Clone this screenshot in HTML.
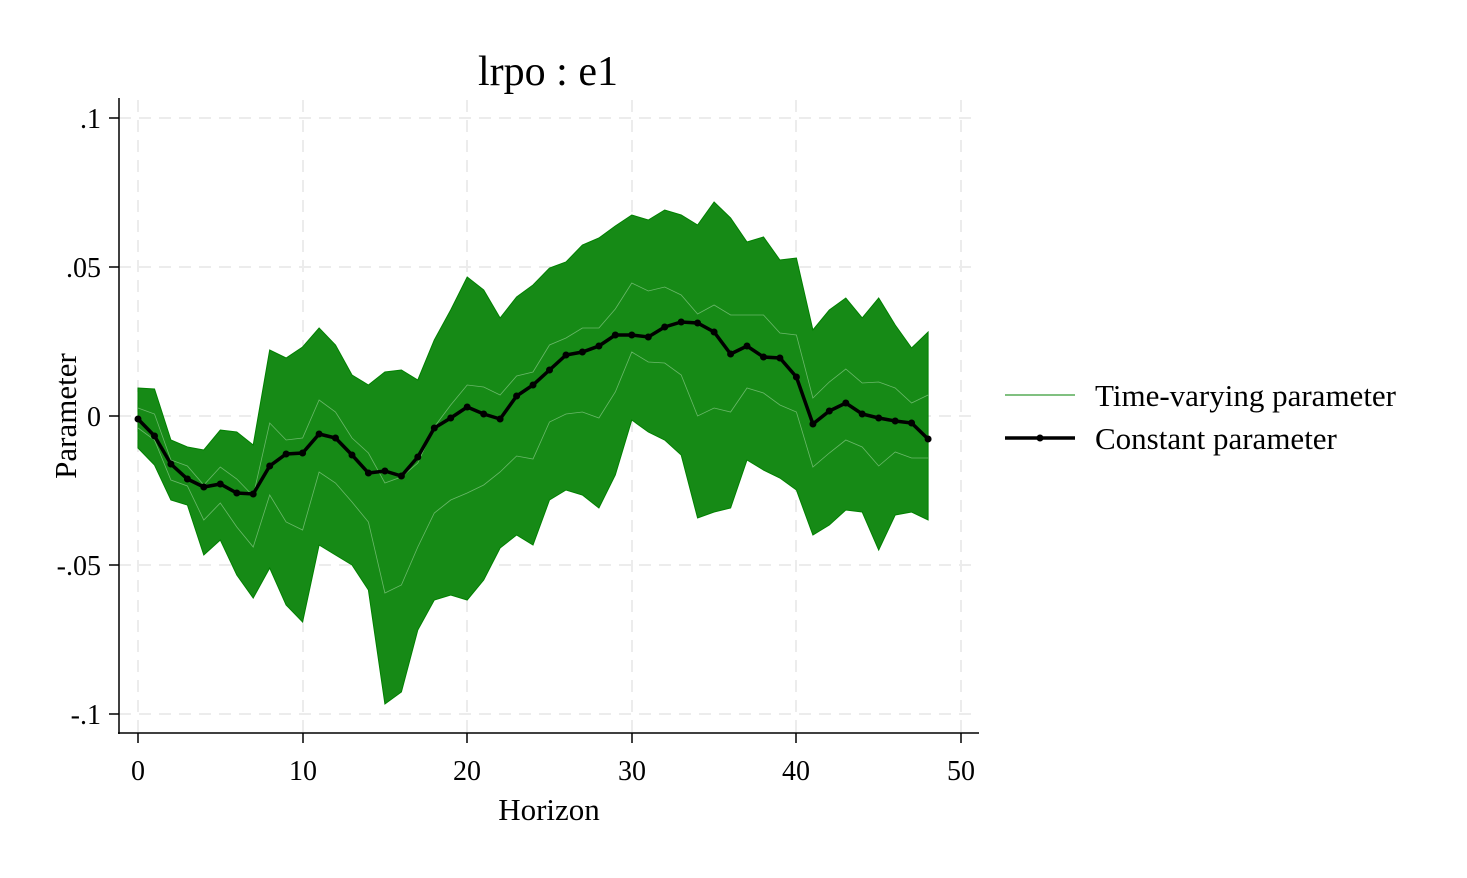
<!DOCTYPE html>
<html><head><meta charset="utf-8"><style>
html,body{margin:0;padding:0;background:#fff;}
svg{display:block;font-family:"Liberation Serif",serif;}
</style></head><body>
<svg width="1467" height="878" viewBox="0 0 1467 878" xmlns="http://www.w3.org/2000/svg">
<defs>
<marker id="dot" markerUnits="userSpaceOnUse" markerWidth="10" markerHeight="10" refX="5" refY="5"><circle cx="5" cy="5" r="3.5" fill="#000"/></marker>
</defs>
<rect width="1467" height="878" fill="#fff"/>
<g stroke="#ececec" stroke-width="2" stroke-dasharray="12,8" fill="none">
<line x1="138" y1="100" x2="138" y2="733"/><line x1="303" y1="100" x2="303" y2="733"/>
<line x1="467" y1="100" x2="467" y2="733"/><line x1="632" y1="100" x2="632" y2="733"/>
<line x1="796" y1="100" x2="796" y2="733"/><line x1="961" y1="100" x2="961" y2="733"/>
<line x1="119" y1="118" x2="979" y2="118"/><line x1="119" y1="267" x2="979" y2="267"/>
<line x1="119" y1="416" x2="979" y2="416"/><line x1="119" y1="565" x2="979" y2="565"/>
<line x1="119" y1="714" x2="979" y2="714"/>
</g>
<polygon fill="#168a16" stroke="#008000" stroke-width="1" points="138,388 154.5,389 170.9,440 187.4,447 203.8,450 220.3,430 236.8,432 253.2,445 269.7,350 286.1,358 302.6,347 319.1,328 335.5,345 352,375 368.4,385 384.9,372 401.4,370 417.8,380 434.3,340 450.7,310 467.2,277 483.7,290 500.1,318 516.6,297 533,285 549.5,268 566,262 582.4,245 598.9,238 615.3,226 631.8,215 648.3,220 664.7,210 681.2,215 697.6,225 714.1,202 730.6,218 747,242 763.5,237 779.9,260 796.4,258 812.9,330 829.3,310 845.8,298 862.2,318 878.7,298 895.2,325 911.6,348 928.1,332 928.1,520 911.6,512 895.2,515 878.7,550 862.2,512 845.8,510 829.3,525 812.9,535 796.4,490 779.9,478 763.5,470 747,460 730.6,508 714.1,512 697.6,518 681.2,455 664.7,440 648.3,432 631.8,420 615.3,475 598.9,508 582.4,495 566,490 549.5,500 533,545 516.6,535 500.1,548 483.7,580 467.2,600 450.7,595 434.3,600 417.8,630 401.4,692 384.9,704 368.4,590 352,565 335.5,555 319.1,545 302.6,622 286.1,605 269.7,568 253.2,598 236.8,575 220.3,540 203.8,555 187.4,505 170.9,500 154.5,465 138,448"/>
<g fill="none" stroke="#7fc47f" stroke-width="0.8" opacity="0.8">
<polyline points="138,408 154.5,414 170.9,460 187.4,466 203.8,485 220.3,467 236.8,479 253.2,496 269.7,423 286.1,440 302.6,438 319.1,400 335.5,412 352,438 368.4,453 384.9,483 401.4,477 417.8,463 434.3,427 450.7,405 467.2,385 483.7,387 500.1,395 516.6,376 533,372 549.5,345 566,338 582.4,328 598.9,328 615.3,309 631.8,283 648.3,291 664.7,287 681.2,295 697.6,314 714.1,305 730.6,315 747,315 763.5,315 779.9,333 796.4,335 812.9,398 829.3,382 845.8,369 862.2,383 878.7,382 895.2,388 911.6,403 928.1,395"/>
<polyline points="138,428 154.5,440 170.9,480 187.4,486 203.8,520 220.3,503 236.8,527 253.2,547 269.7,495 286.1,522 302.6,530 319.1,472 335.5,483 352,502 368.4,522 384.9,593 401.4,585 417.8,547 434.3,513 450.7,500 467.2,493 483.7,485 500.1,472 516.6,456 533,459 549.5,422 566,414 582.4,412 598.9,418 615.3,392 631.8,352 648.3,362 664.7,363 681.2,375 697.6,416 714.1,408 730.6,412 747,388 763.5,393 779.9,405 796.4,412 812.9,467 829.3,453 845.8,440 862.2,447 878.7,466 895.2,452 911.6,458 928.1,458"/>
</g>
<polyline fill="none" stroke="#000" stroke-width="3.5" marker-start="url(#dot)" marker-mid="url(#dot)" marker-end="url(#dot)" points="138,419 154.5,436 170.9,464 187.4,479 203.8,487 220.3,484 236.8,493 253.2,494 269.7,466 286.1,454 302.6,453 319.1,434 335.5,438 352,455 368.4,473 384.9,471 401.4,476 417.8,457 434.3,428 450.7,418 467.2,407 483.7,414 500.1,419 516.6,396 533,385 549.5,370 566,355 582.4,352 598.9,346 615.3,335 631.8,335 648.3,337 664.7,327 681.2,322 697.6,323 714.1,332 730.6,354 747,346 763.5,357 779.9,358 796.4,377 812.9,424 829.3,411 845.8,403 862.2,414 878.7,418 895.2,421 911.6,423 928.1,439"/>
<g stroke="#000" stroke-width="1.5" fill="none">
<line x1="119" y1="98" x2="119" y2="734"/><line x1="118" y1="733" x2="979" y2="733"/>
<line x1="109" y1="118" x2="119" y2="118"/><line x1="109" y1="267" x2="119" y2="267"/>
<line x1="109" y1="416" x2="119" y2="416"/><line x1="109" y1="565" x2="119" y2="565"/>
<line x1="109" y1="714" x2="119" y2="714"/>
<line x1="138" y1="733" x2="138" y2="743"/><line x1="303" y1="733" x2="303" y2="743"/>
<line x1="467" y1="733" x2="467" y2="743"/><line x1="632" y1="733" x2="632" y2="743"/>
<line x1="796" y1="733" x2="796" y2="743"/><line x1="961" y1="733" x2="961" y2="743"/>
</g>
<g font-size="28" fill="#000">
<text x="101" y="128" text-anchor="end">.1</text>
<text x="101" y="277" text-anchor="end">.05</text>
<text x="101" y="426" text-anchor="end">0</text>
<text x="101" y="575" text-anchor="end">-.05</text>
<text x="101" y="724" text-anchor="end">-.1</text>
<text x="138" y="780" text-anchor="middle">0</text>
<text x="303" y="780" text-anchor="middle">10</text>
<text x="467" y="780" text-anchor="middle">20</text>
<text x="632" y="780" text-anchor="middle">30</text>
<text x="796" y="780" text-anchor="middle">40</text>
<text x="961" y="780" text-anchor="middle">50</text>
<text x="549" y="820" text-anchor="middle" font-size="31">Horizon</text>
<text transform="translate(76,416) rotate(-90)" text-anchor="middle" font-size="31">Parameter</text>
<text x="548" y="85" text-anchor="middle" font-size="42">lrpo : e1</text>
<text x="1095" y="406" font-size="31">Time-varying parameter</text>
<text x="1095" y="449" font-size="31">Constant parameter</text>
</g>
<line x1="1005" y1="395" x2="1075" y2="395" stroke="#008000" stroke-width="1"/>
<line x1="1005" y1="438" x2="1075" y2="438" stroke="#000" stroke-width="3.5"/>
<circle cx="1040" cy="438" r="3.5" fill="#000"/>
</svg>
</body></html>
